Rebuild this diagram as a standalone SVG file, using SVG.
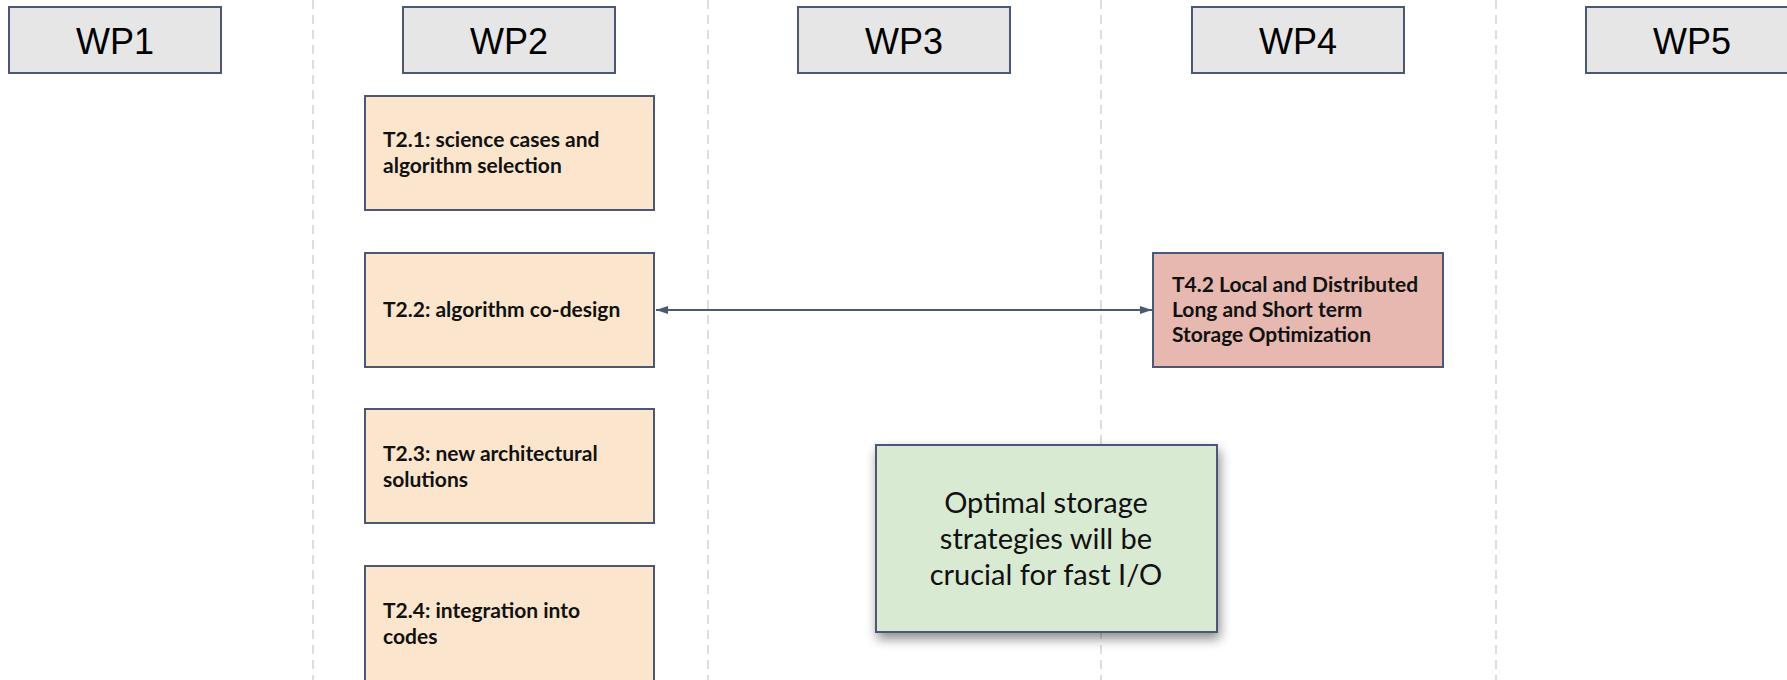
<svg xmlns="http://www.w3.org/2000/svg" width="1787" height="680" viewBox="0 0 1787 680">
  <style>
    .divider { stroke: #dedede; stroke-width: 2; stroke-dasharray: 9 6; fill: none; }
    .wp rect { fill: #e6e6e6; stroke: #4b5873; stroke-width: 2; }
    .wp text { font-family: "Liberation Sans", Arial, sans-serif; font-size: 36px; fill: #000; text-anchor: middle; }
    .task rect { fill: #fce5cd; stroke: #4b5873; stroke-width: 2; }
    .task text { font-family: Lato, "Noto Sans", sans-serif; font-weight: bold; font-size: 21px; fill: #111; }
    .t4 rect { fill: #e6b8af; }
    .note rect { fill: #d9ead3; stroke: #4b5873; stroke-width: 2; }
    .note text { font-family: Lato, "Noto Sans", sans-serif; font-size: 29px; fill: #111; text-anchor: middle; }
    .link { stroke: #4b5873; stroke-width: 2; fill: none; }
  </style>
  <defs>
    <marker id="arrowEnd" viewBox="0 0 12 8" refX="12" refY="4" markerWidth="12" markerHeight="8" markerUnits="userSpaceOnUse" orient="auto">
      <path d="M0,0 L12,4 L0,8 Z" fill="#4b5873"/>
    </marker>
    <marker id="arrowStart" viewBox="0 0 12 8" refX="0" refY="4" markerWidth="12" markerHeight="8" markerUnits="userSpaceOnUse" orient="auto">
      <path d="M12,0 L0,4 L12,8 Z" fill="#4b5873"/>
    </marker>
    <filter id="shadow" x="-20%" y="-20%" width="140%" height="150%">
      <feGaussianBlur in="SourceAlpha" stdDeviation="6"/>
      <feOffset dx="2" dy="6" result="blur"/>
      <feComponentTransfer><feFuncA type="linear" slope="0.45"/></feComponentTransfer>
      <feMerge><feMergeNode/><feMergeNode in="SourceGraphic"/></feMerge>
    </filter>
  </defs>

  <rect width="1787" height="680" fill="#ffffff"/>

  <!-- column dividers -->
  <g id="dividers">
    <line class="divider" x1="313" y1="0" x2="313" y2="680"/>
    <line class="divider" x1="708" y1="0" x2="708" y2="680"/>
    <line class="divider" x1="1101" y1="0" x2="1101" y2="680"/>
    <line class="divider" x1="1496" y1="0" x2="1496" y2="680"/>
  </g>

  <!-- work package headers -->
  <g id="wp1" class="wp"><rect x="9" y="7" width="212" height="66"/><text x="115" y="54">WP1</text></g>
  <g id="wp2" class="wp"><rect x="403" y="7" width="212" height="66"/><text x="509" y="54">WP2</text></g>
  <g id="wp3" class="wp"><rect x="798" y="7" width="212" height="66"/><text x="904" y="54">WP3</text></g>
  <g id="wp4" class="wp"><rect x="1192" y="7" width="212" height="66"/><text x="1298" y="54">WP4</text></g>
  <g id="wp5" class="wp"><rect x="1586" y="7" width="212" height="66"/><text x="1692" y="54">WP5</text></g>

  <!-- WP2 tasks -->
  <g id="t2-1" class="task">
    <rect x="365" y="96" width="289" height="114"/>
    <text x="383" y="147">T2.1: science cases and</text>
    <text x="383" y="173">algorithm selection</text>
  </g>
  <g id="t2-2" class="task">
    <rect x="365" y="253" width="289" height="114"/>
    <text x="383" y="317">T2.2: algorithm co-design</text>
  </g>
  <g id="t2-3" class="task">
    <rect x="365" y="409" width="289" height="114"/>
    <text x="383" y="461">T2.3: new architectural</text>
    <text x="383" y="487">solutions</text>
  </g>
  <g id="t2-4" class="task">
    <rect x="365" y="566" width="289" height="118"/>
    <text x="383" y="618">T2.4: integration into</text>
    <text x="383" y="644">codes</text>
  </g>

  <!-- WP4 task -->
  <g id="t4-2" class="task t4">
    <rect x="1153" y="253" width="290" height="114"/>
    <text x="1172" y="292">T4.2 Local and Distributed</text>
    <text x="1172" y="317">Long and Short term</text>
    <text x="1172" y="342">Storage Optimization</text>
  </g>

  <!-- connectors -->
  <g id="connectors">
    <line class="link" x1="656" y1="310" x2="1152" y2="310" marker-start="url(#arrowStart)" marker-end="url(#arrowEnd)"/>
  </g>

  <!-- callout -->
  <g id="note" class="note">
    <rect x="876" y="445" width="341" height="187" filter="url(#shadow)"/>
    <text x="1046" y="513">Optimal storage</text>
    <text x="1046" y="549">strategies will be</text>
    <text x="1046" y="585">crucial for fast I/O</text>
  </g>
</svg>
